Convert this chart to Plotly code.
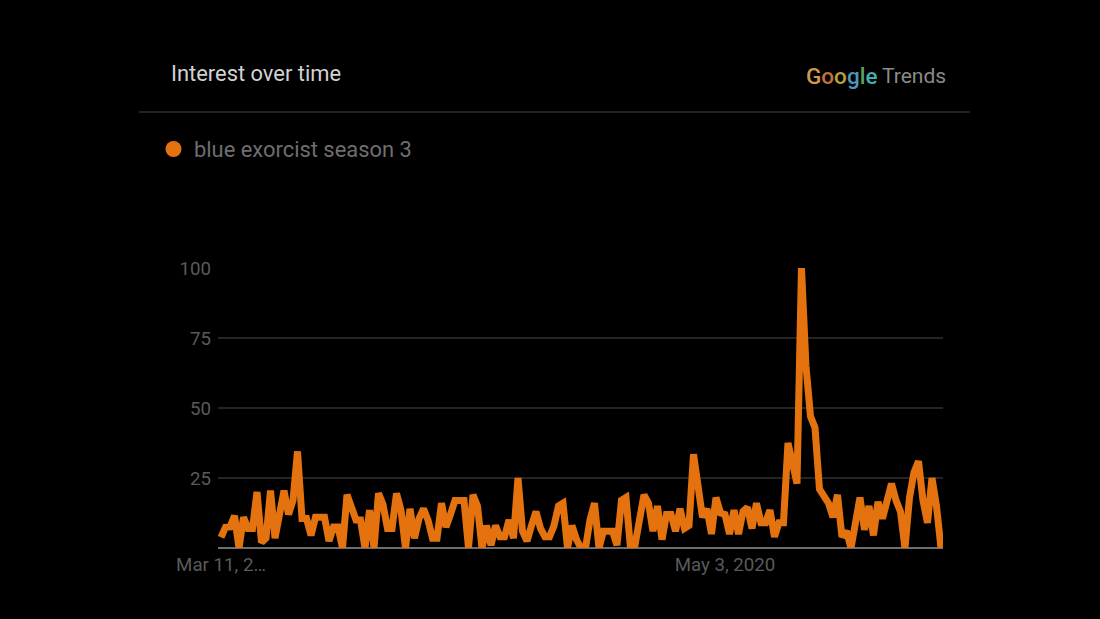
import plotly.graph_objects as go

values = [3.8,7.4,7.5,11.5,0,11,7,7,20,2,3.5,20.5,3.5,13,20.5,12,17,34.5,10.5,10.5,
          4.5,11,11,11,2.5,7.5,7.5,0,19,14,10,10,0,13.5,0,19.5,15.5,7,7,19.5,
          13.5,0,14,3.5,10.5,14,10,3.5,3.5,16,7.5,12,17,17,17,0,19,15,0,8,
          1,8,4,4,10,3.5,25,6,2.5,8,13,7,4,4,8,15,16,0,8,3,
          0,0,10,16,0,6,6,6,1,17,18,0,1,10,19,16,6,15,3,12,
          12,6,14,7,8,33.5,23,11,14,5,18,12.5,12,5,13.5,5,13,14.5,7,16,
          9,9,13.5,4,9,9,37.5,31,23,100,65,47,43,21,18,16,11,19,4,6,
          0,9,18,6.5,15,4.5,16.5,10.5,16,23,17,13,0,18,27,31,17,9,25,15,0]
series_name = "blue exorcist season 3"
x_index = list(range(len(values)))
x_tick_vals = [0, 112]
x_tick_text = ["Mar 11, 2…", "May 3, 2020"]
y_tick_vals = [0, 25, 50, 75, 100]
y_tick_text = ["", "25", "50", "75", "100"]

W, H = 1100, 619
L, R, T, B = 218, 943, 268, 548
FONT = "Roboto, Arial, sans-serif"
ORANGE = "#e4730f"

fig = go.Figure()
fig.add_trace(go.Scatter(x=x_index, y=values, mode="lines", name=series_name,
                         line=dict(color=ORANGE, width=7), hoverinfo="x+y", showlegend=False))

logo = ("<span style='color:#d0984c'>G</span><span style='color:#c4703a'>o</span>"
        "<span style='color:#b8a040'>o</span><span style='color:#4f95b8'>g</span>"
        "<span style='color:#5aa060'>l</span><span style='color:#3fb0b0'>e</span>")

fig.update_layout(
    width=W, height=H, autosize=False,
    margin=dict(l=L, r=W - R, t=T, b=H - B, pad=0),
    paper_bgcolor="#000000", plot_bgcolor="#000000",
    font=dict(family=FONT, color="#5a5a5a", size=18.7),
    showlegend=False,
    xaxis=dict(range=[-0.67, 160.45], tickmode="array", tickvals=x_tick_vals, ticktext=x_tick_text,
               showgrid=False, zeroline=False, showline=False, ticks="", fixedrange=True,
               ticklabelstandoff=3, tickfont=dict(size=18.7, color="#5a5a5a")),
    yaxis=dict(range=[0, 100], tickmode="array", tickvals=y_tick_vals, ticktext=y_tick_text,
               showgrid=True, gridcolor="#242424", gridwidth=1.5, zeroline=False, showline=False,
               ticks="", ticklabelstandoff=6, fixedrange=True,
               tickfont=dict(size=18.7, color="#5a5a5a")),
    shapes=[
        dict(type="line", xref="paper", yref="paper", x0=(139-L)/(R-L), x1=(970-L)/(R-L),
             y0=(B-112)/(B-T), y1=(B-112)/(B-T), line=dict(color="#2e2e2e", width=1.5)),
        dict(type="line", xref="paper", yref="paper", x0=0, x1=1, y0=0, y1=0,
             line=dict(color="#6e6e6e", width=2), layer="below"),
        dict(type="circle", xref="paper", yref="paper",
             x0=(165.5-L)/(R-L), x1=(181.5-L)/(R-L), y0=(B-157)/(B-T), y1=(B-141)/(B-T),
             fillcolor=ORANGE, line=dict(width=0)),
    ],
    annotations=[
        dict(text="Interest over time", xref="paper", yref="paper", x=(168.5-L)/(R-L), y=(B-73.5)/(B-T),
             xanchor="left", yanchor="middle", showarrow=False, font=dict(size=21.9, color="#d2d2d2", family=FONT)),
        dict(text=series_name, xref="paper", yref="paper", x=(192-L)/(R-L), y=(B-149)/(B-T),
             xanchor="left", yanchor="middle", showarrow=False, font=dict(size=21.9, color="#6e6e6e", family=FONT)),
        dict(text=logo, xref="paper", yref="paper", x=(804-L)/(R-L), y=(B-76)/(B-T),
             xanchor="left", yanchor="middle", showarrow=False, font=dict(size=22.5, weight=500, family=FONT)),
        dict(text="Trends", xref="paper", yref="paper", x=(948-L)/(R-L), y=(B-76)/(B-T),
             xanchor="right", yanchor="middle", showarrow=False, font=dict(size=21, color="#8a8a8a", family=FONT)),
    ],
)

fig.write_html("out.html", config={"displayModeBar": False},
               post_script="document.body.style.margin='0';document.body.style.background='#000';")
